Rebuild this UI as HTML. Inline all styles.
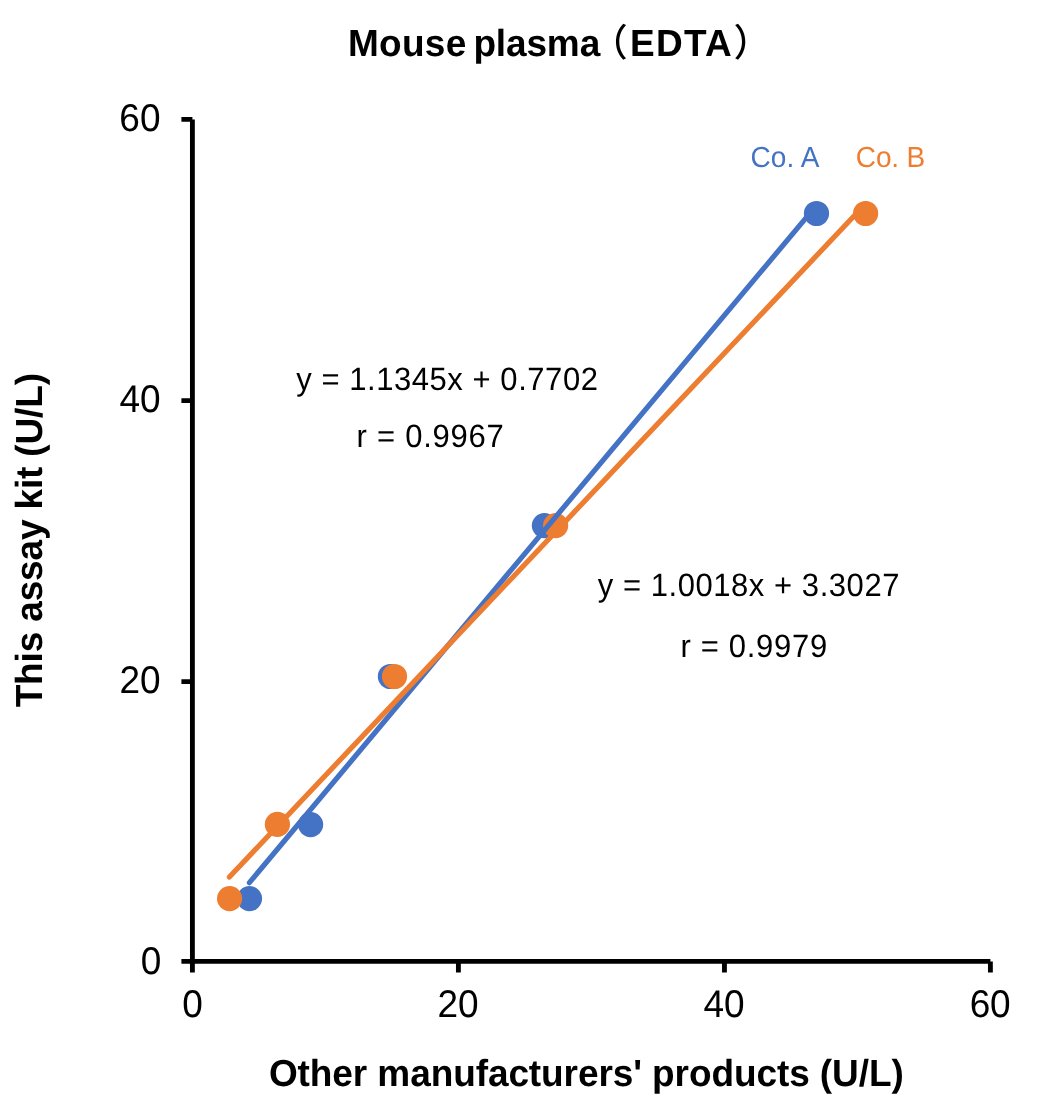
<!DOCTYPE html>
<html><head><meta charset="utf-8"><title>Mouse plasma (EDTA)</title>
<style>html,body{margin:0;padding:0;background:#fff;overflow:hidden}svg{display:block;will-change:transform;text-rendering:geometricPrecision}</style>
</head><body>
<svg width="1040" height="1100" viewBox="0 0 1040 1100">
<rect width="1040" height="1100" fill="#fff"/>
<circle cx="249.5" cy="898.6" r="12.6" fill="#4472C4"/>
<circle cx="310.6" cy="824.6" r="12.6" fill="#4472C4"/>
<circle cx="390.4" cy="676.5" r="12.6" fill="#4472C4"/>
<circle cx="544.4" cy="525.6" r="12.6" fill="#4472C4"/>
<circle cx="816.5" cy="213.5" r="12.6" fill="#4472C4"/>
<circle cx="229.6" cy="898.6" r="12.6" fill="#ED7D31"/>
<circle cx="277.4" cy="824.4" r="12.6" fill="#ED7D31"/>
<circle cx="394.5" cy="676.5" r="12.6" fill="#ED7D31"/>
<circle cx="555.6" cy="525.6" r="12.6" fill="#ED7D31"/>
<circle cx="865.6" cy="213.5" r="12.6" fill="#ED7D31"/>
<line x1="249.4" y1="882.65" x2="816.5" y2="205.36" stroke="#4472C4" stroke-width="5.2" stroke-linecap="round"/>
<line x1="229.4" y1="877.04" x2="865.6" y2="203.75" stroke="#ED7D31" stroke-width="5.2" stroke-linecap="round"/>
<path d="M192.4 119.4V961.4 M192.4 961.4H990.4 M181.4 119.4H192.4 M181.4 400.6H192.4 M181.4 681.6H192.4 M181.4 961.4H192.4 M192.4 961.4V972.4 M458.4 961.4V972.4 M724.45 961.4V972.4 M990.4 961.4V972.4" stroke="#000" stroke-width="4.85" fill="none" stroke-linecap="butt"/>
<text transform="translate(0 56) scale(1 1.02)" y="0" font-family="'Liberation Sans', Arial, sans-serif" font-weight="bold" font-size="37" fill="#000"><tspan x="348.00" letter-spacing="0.28">Mouse </tspan><tspan x="473.40" letter-spacing="-0.14">plasma</tspan><tspan x="590.81" font-family="'Liberation Sans', 'Noto Sans CJK JP', sans-serif" font-weight="500">（</tspan><tspan x="630.00" letter-spacing="1.27">EDTA</tspan><tspan x="733.44" font-family="'Liberation Sans', 'Noto Sans CJK JP', sans-serif" font-weight="500">）</tspan></text>
<text transform="translate(119.37 131.30) scale(1.0000 1.0407)" font-family="'Liberation Sans', Arial, sans-serif" font-weight="normal" font-size="37" fill="#000" letter-spacing="0.16">60</text>
<text transform="translate(119.60 412.20) scale(1.0000 1.0407)" font-family="'Liberation Sans', Arial, sans-serif" font-weight="normal" font-size="37" fill="#000" letter-spacing="-0.07">40</text>
<text transform="translate(119.59 693.20) scale(1.0000 1.0407)" font-family="'Liberation Sans', Arial, sans-serif" font-weight="normal" font-size="37" fill="#000" letter-spacing="-0.06">20</text>
<text transform="translate(140.70 973.90) scale(1.0000 1.0407)" font-family="'Liberation Sans', Arial, sans-serif" font-weight="normal" font-size="37" fill="#000">0</text>
<text transform="translate(182.20 1017.40) scale(1.0000 1.0407)" font-family="'Liberation Sans', Arial, sans-serif" font-weight="normal" font-size="37" fill="#000">0</text>
<text transform="translate(437.39 1017.40) scale(1.0000 1.0407)" font-family="'Liberation Sans', Arial, sans-serif" font-weight="normal" font-size="37" fill="#000" letter-spacing="-0.06">20</text>
<text transform="translate(703.40 1017.40) scale(1.0000 1.0407)" font-family="'Liberation Sans', Arial, sans-serif" font-weight="normal" font-size="37" fill="#000" letter-spacing="-0.07">40</text>
<text transform="translate(969.67 1017.40) scale(1.0000 1.0407)" font-family="'Liberation Sans', Arial, sans-serif" font-weight="normal" font-size="37" fill="#000" letter-spacing="-0.14">60</text>
<text transform="translate(296.17 389.50) scale(1.0000 1.0407)" font-family="'Liberation Sans', Arial, sans-serif" font-weight="normal" font-size="31" fill="#000" letter-spacing="0.55">y = 1.1345x + 0.7702</text>
<text transform="translate(356.59 446.70) scale(1.0000 1.0407)" font-family="'Liberation Sans', Arial, sans-serif" font-weight="normal" font-size="31" fill="#000" letter-spacing="0.73">r = 0.9967</text>
<text transform="translate(597.67 595.60) scale(1.0000 1.0407)" font-family="'Liberation Sans', Arial, sans-serif" font-weight="normal" font-size="31" fill="#000" letter-spacing="0.55">y = 1.0018x + 3.3027</text>
<text transform="translate(680.39 657.00) scale(1.0000 1.0407)" font-family="'Liberation Sans', Arial, sans-serif" font-weight="normal" font-size="31" fill="#000" letter-spacing="0.70">r = 0.9979</text>
<text transform="translate(750.43 166.70) scale(1.0000 1.0407)" font-family="'Liberation Sans', Arial, sans-serif" font-weight="normal" font-size="28" fill="#4472C4" letter-spacing="0.12">Co. A</text>
<text transform="translate(855.83 166.70) scale(1.0000 1.0407)" font-family="'Liberation Sans', Arial, sans-serif" font-weight="normal" font-size="28" fill="#ED7D31" letter-spacing="-0.16">Co. B</text>
<text transform="translate(268.92 1085.80) scale(1.0000 1.0200)" font-family="'Liberation Sans', Arial, sans-serif" font-weight="bold" font-size="37" fill="#000" letter-spacing="-0.09">Other manufacturers&#39; products (U/L)</text>
<text transform="translate(42.10,707.37) rotate(-90) scale(1 1.02)" font-family="'Liberation Sans', Arial, sans-serif" font-weight="bold" font-size="37" fill="#000" letter-spacing="-0.15">This assay kit (U/L)</text>
</svg>
</body></html>
